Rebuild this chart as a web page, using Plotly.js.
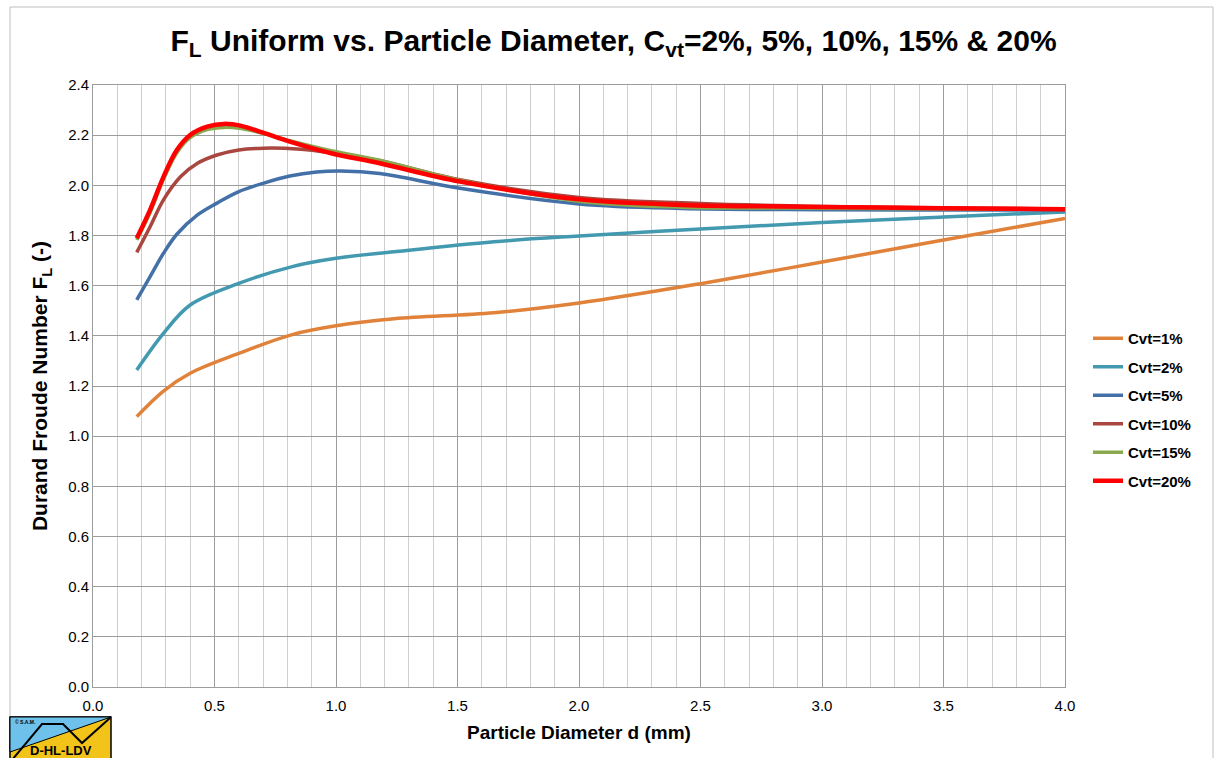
<!DOCTYPE html>
<html>
<head>
<meta charset="utf-8">
<script src="https://cdn.plot.ly/plotly-3.0.1.min.js"></script>
<style>html,body{margin:0;padding:0;background:#fff}#chart{width:1215px;height:758px}</style>
</head>
<body>
<div id="chart"></div>
<script>
// Particle diameter d (mm) and Durand Froude number FL
const d1  = [0.18, 0.29, 0.40, 0.60, 0.82, 1.00, 1.24, 1.65, 2.00, 2.50, 3.00, 3.50, 4.00];
const fl1 = [1.078, 1.18, 1.251, 1.330, 1.405, 1.440, 1.468, 1.492, 1.531, 1.608, 1.694, 1.782, 1.868];

const d2  = [0.18, 0.29, 0.40, 0.60, 0.82, 1.00, 1.24, 1.65, 2.00, 2.50, 3.00, 3.50, 4.00];
const fl2 = [1.264, 1.410, 1.523, 1.609, 1.676, 1.709, 1.735, 1.775, 1.798, 1.826, 1.852, 1.874, 1.894];

const d5  = [0.18, 0.235, 0.29, 0.345, 0.43, 0.51, 0.60, 0.70, 0.81, 0.92, 1.02, 1.18, 1.51, 2.00, 2.42, 3.00, 3.50, 4.00];
const fl5 = [1.543, 1.636, 1.729, 1.805, 1.882, 1.929, 1.975, 2.008, 2.037, 2.053, 2.057, 2.047, 1.988, 1.926, 1.908, 1.903, 1.902, 1.902];

const d10  = [0.18, 0.235, 0.29, 0.36, 0.43, 0.51, 0.60, 0.70, 0.84, 0.98, 1.18, 1.51, 2.00, 2.50, 3.00, 3.50, 4.00];
const fl10 = [1.733, 1.835, 1.942, 2.034, 2.088, 2.121, 2.141, 2.148, 2.145, 2.130, 2.098, 2.022, 1.952, 1.928, 1.916, 1.910, 1.906];

const d15  = [0.18, 0.235, 0.29, 0.345, 0.40, 0.47, 0.54, 0.61, 0.70, 0.81, 0.98, 1.18, 1.51, 2.00, 2.42, 3.00, 3.50, 4.00];
const fl15 = [1.782, 1.892, 2.024, 2.130, 2.190, 2.222, 2.231, 2.226, 2.207, 2.178, 2.138, 2.100, 2.020, 1.937, 1.913, 1.909, 1.906, 1.904];

const d20  = [0.18, 0.235, 0.29, 0.345, 0.40, 0.47, 0.54, 0.61, 0.70, 0.81, 0.98, 1.18, 1.51, 2.00, 2.42, 3.00, 3.50, 4.00];
const fl20 = [1.789, 1.902, 2.034, 2.141, 2.201, 2.234, 2.245, 2.237, 2.210, 2.174, 2.128, 2.088, 2.015, 1.944, 1.922, 1.914, 1.909, 1.905];

const seriesNames  = ['Cvt=1%', 'Cvt=2%', 'Cvt=5%', 'Cvt=10%', 'Cvt=15%', 'Cvt=20%'];
const seriesX      = [d1, d2, d5, d10, d15, d20];
const seriesY      = [fl1, fl2, fl5, fl10, fl15, fl20];
const seriesColors = ['#E0823A', '#4299B0', '#4470A8', '#A9463F', '#8AA84E', '#FF0000'];
const seriesWidths = [3.5, 3.5, 3.5, 3.5, 3.5, 4.5];

const traces = seriesNames.map((n, i) => ({
  x: seriesX[i], y: seriesY[i], name: '<b>' + n + '</b>', legendgroup: 'g' + i,
  type: 'scatter', mode: 'lines',
  line: {color: seriesColors[i], width: seriesWidths[i], shape: 'spline', smoothing: 1.0}
}));

// pixel -> paper helpers for decoration
const L = 93, R = 1065, T = 85, B = 687;
const px = v => (v - L) / (R - L);
const py = v => (B - v) / (B - T);

const shapes = [
  {type: 'rect', xref: 'paper', yref: 'paper', x0: px(10), x1: px(1213), y0: py(765), y1: py(7),
   line: {color: '#bfbfbf', width: 1}, fillcolor: 'rgba(0,0,0,0)', layer: 'below'},
  // logo
  {type: 'rect', xref: 'paper', yref: 'paper', x0: px(10), x1: px(111), y0: py(765), y1: py(717),
   line: {color: '#000', width: 1.5}, fillcolor: '#F2C318'},
  {type: 'path', xref: 'paper', yref: 'paper',
   path: `M ${px(10)} ${py(717)} L ${px(111)} ${py(717)} L ${px(10)} ${py(752)} Z`,
   line: {color: '#000', width: 1}, fillcolor: '#6EC1EA'},
  {type: 'path', xref: 'paper', yref: 'paper',
   path: `M ${px(12)} ${py(760)} L ${px(42)} ${py(724)} L ${px(63)} ${py(724)} L ${px(82)} ${py(743)} L ${px(110)} ${py(718)}`,
   line: {color: '#000', width: 2}}
];

const font = 'Liberation Sans, Arial, sans-serif';
const annotations = [
  {xref: 'paper', yref: 'paper', x: px(61), y: py(750), xanchor: 'center', yanchor: 'middle',
   text: '<b>D-HL-LDV</b>', showarrow: false, font: {family: font, size: 13, color: '#000'}},
  {xref: 'paper', yref: 'paper', x: px(13), y: py(722), xanchor: 'left', yanchor: 'middle',
   text: '<b>© S.A.M.</b>', showarrow: false, font: {family: font, size: 5, color: '#000'}}
];

const layout = {
  width: 1215, height: 758,
  margin: {l: L, r: 1215 - R, t: T, b: 758 - B},
  paper_bgcolor: '#fff', plot_bgcolor: '#fff',
  font: {family: font, color: '#000'},
  title: {text: '<b>F<sub>L</sub> Uniform vs. Particle Diameter, C<sub>vt</sub>=2%, 5%, 10%, 15% & 20%</b>',
          font: {family: font, size: 30, color: '#000'}, x: 0.505, xref: 'container', y: 0.947, yanchor: 'middle'},
  xaxis: {
    range: [0, 4], dtick: 0.5, tick0: 0, tickformat: '.1f',
    showgrid: true, gridcolor: '#9c9c9c', gridwidth: 1,
    minor: {dtick: 0.1, showgrid: true, gridcolor: '#cfcfcf', gridwidth: 1},
    showline: true, linecolor: '#9c9c9c', mirror: true, zeroline: false,
    ticks: '', tickfont: {size: 15, family: font}, ticklabelstandoff: 5,
    title: {text: '<b>Particle Diameter d (mm)</b>', font: {size: 19, family: font}, standoff: 12}
  },
  yaxis: {
    range: [0, 2.4], dtick: 0.2, tick0: 0, tickformat: '.1f',
    showgrid: true, gridcolor: '#9c9c9c', gridwidth: 1,
    showline: true, linecolor: '#9c9c9c', mirror: true, zeroline: false,
    ticks: '', tickfont: {size: 15, family: font},
    title: {text: '<b>Durand Froude Number F<sub>L</sub> (-)</b>', font: {size: 21, family: font}, standoff: 14}
  },
  legend: {x: px(1088), y: py(322), xanchor: 'left', yanchor: 'top',
           font: {size: 15, family: font}, tracegroupgap: 6, itemwidth: 30,
           bgcolor: 'rgba(0,0,0,0)'},
  shapes: shapes, annotations: annotations, showlegend: true
};

Plotly.newPlot('chart', traces, layout, {displayModeBar: false, staticPlot: true});
</script>
</body>
</html>
